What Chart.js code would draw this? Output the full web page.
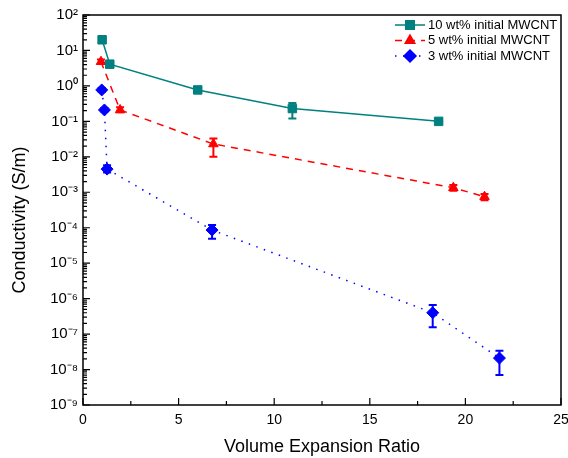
<!DOCTYPE html>
<html><head><meta charset="utf-8">
<script src="https://cdn.jsdelivr.net/npm/chart.js@4/dist/chart.umd.min.js"></script>
<style>html,body{margin:0;padding:0;background:#fff}</style>
</head><body>
<canvas id="c" width="568" height="458" style="display:block;width:568px;height:458px"></canvas>
<script>
// ---- data ----
const seriesLabels = ['10 wt% initial MWCNT', '5 wt% initial MWCNT', '3 wt% initial MWCNT'];

const x10 = [1.0, 1.4, 6.0, 10.95, 18.6];
const y10 = [20, 4.1, 0.77, 0.23, 0.1];
const lo10 = [18, 3.7, 0.7, 0.12, 0.095];
const hi10 = [22, 4.5, 0.85, 0.33, 0.105];

const x5 = [0.94, 1.94, 6.82, 19.37, 21.0];
const y5 = [4.8, 0.21, 0.023, 0.00134, 0.00075];
const lo5 = [4.2, 0.18, 0.01, 0.0011, 0.0006];
const hi5 = [5.6, 0.25, 0.033, 0.0016, 0.0009];

const x3 = [0.98, 1.12, 1.26, 6.75, 18.29, 21.78];
const y3 = [0.77, 0.21, 0.0045, 8.6e-5, 4e-7, 2.1e-8];
const lo3 = [0.68, 0.19, 0.0036, 4.9e-5, 1.55e-7, 7e-9];
const hi3 = [0.88, 0.24, 0.0058, 1.2e-4, 6.6e-7, 3.4e-8];

const xTickValues = [0, 5, 10, 15, 20, 25];
const yTickExponents = [-9, -8, -7, -6, -5, -4, -3, -2, -1, 0, 1, 2];

// ---- styles ----
const TEAL = '#008080', RED = '#ff0000', BLUE = '#0000ff';
const FONT = "'Liberation Sans', Arial, sans-serif";

function pts(xs, ys) { return xs.map((x, i) => ({ x: x, y: ys[i] })); }
const SUP = { '0': '⁰', '1': '¹', '2': '²', '3': '³', '4': '⁴', '5': '⁵', '6': '⁶', '7': '⁷', '8': '⁸', '9': '⁹', '-': '⁻' };
function sup(n) { return String(n).split('').map(c => SUP[c]).join(''); }

const datasets = [
  { label: seriesLabels[0], data: pts(x10, y10), lo: lo10, hi: hi10,
    borderColor: TEAL, backgroundColor: TEAL, borderWidth: 1.5,
    pointStyle: 'rect', pointRadius: 6, pointBorderWidth: 1, dash: [] },
  { label: seriesLabels[1], data: pts(x5, y5), lo: lo5, hi: hi5,
    borderColor: RED, backgroundColor: RED, borderWidth: 1.5, borderDash: [7, 6],
    pointStyle: 'triangle', pointRadius: 5.5, pointBorderWidth: 1, dash: [7, 6] },
  { label: seriesLabels[2], data: pts(x3, y3), lo: lo3, hi: hi3,
    borderColor: BLUE, backgroundColor: BLUE, borderWidth: 1.5, borderDash: [1.5, 6.5],
    pointStyle: 'rectRot', pointRadius: 6, pointBorderWidth: 1, dash: [1.5, 6.5] }
];

const decorPlugin = {
  id: 'decor',
  afterDatasetsDraw(chart) {
    const ctx = chart.ctx, xs = chart.scales.x, ys = chart.scales.y;
    // error bars
    chart.data.datasets.forEach(ds => {
      ctx.save();
      ctx.strokeStyle = ds.borderColor; ctx.lineWidth = 2; ctx.setLineDash([]);
      ds.data.forEach((p, i) => {
        const px = xs.getPixelForValue(p.x);
        const yl = ys.getPixelForValue(ds.lo[i]), yh = ys.getPixelForValue(ds.hi[i]);
        ctx.beginPath();
        ctx.moveTo(px, yl); ctx.lineTo(px, yh);
        ctx.moveTo(px - 4, yl); ctx.lineTo(px + 4, yl);
        ctx.moveTo(px - 4, yh); ctx.lineTo(px + 4, yh);
        ctx.stroke();
      });
      ctx.restore();
    });
  },
  afterDraw(chart) {
    const ctx = chart.ctx, a = chart.chartArea, xs = chart.scales.x, ys = chart.scales.y;
    ctx.save();
    ctx.strokeStyle = '#000'; ctx.lineWidth = 1.5; ctx.setLineDash([]);
    ctx.strokeRect(a.left, a.top, a.right - a.left, a.bottom - a.top);
    ctx.lineWidth = 1.2;
    ctx.beginPath();
    // y ticks (inward)
    yTickExponents.forEach((e, k) => {
      const py = ys.getPixelForValue(Math.pow(10, e));
      ctx.moveTo(a.left, py); ctx.lineTo(a.left + 7, py);
      if (k < yTickExponents.length - 1) {
        for (let m = 2; m <= 9; m++) {
          const pm = ys.getPixelForValue(m * Math.pow(10, e));
          ctx.moveTo(a.left, pm); ctx.lineTo(a.left + 4, pm);
        }
      }
    });
    // x ticks (inward)
    xTickValues.forEach((v, k) => {
      const px = xs.getPixelForValue(v);
      ctx.moveTo(px, a.bottom); ctx.lineTo(px, a.bottom - 7);
      if (k < xTickValues.length - 1) {
        const pm = xs.getPixelForValue((v + xTickValues[k + 1]) / 2);
        ctx.moveTo(pm, a.bottom); ctx.lineTo(pm, a.bottom - 4);
      }
    });
    ctx.stroke();

    // legend
    const tx = a.right - 133;
    ctx.font = '13px ' + FONT;
    ctx.textBaseline = 'middle';
    ctx.fillStyle = '#000';
    chart.data.datasets.forEach((ds, i) => {
      const y = a.top + 10 + i * 15.5;
      ctx.save();
      ctx.strokeStyle = ds.borderColor; ctx.lineWidth = 1.5;
      ctx.setLineDash(ds.dash);
      ctx.beginPath(); ctx.moveTo(tx - 33, y); ctx.lineTo(tx - 3, y); ctx.stroke();
      ctx.setLineDash([]);
      ctx.fillStyle = ds.backgroundColor;
      Chart.helpers.drawPoint(ctx, { pointStyle: ds.pointStyle, radius: ds.pointRadius, borderWidth: 1, rotation: 0 }, tx - 18, y);
      ctx.fill();
      ctx.restore();
      ctx.fillText(ds.label, tx, y);
    });
    ctx.restore();
  }
};

new Chart(document.getElementById('c'), {
  type: 'scatter',
  data: { datasets: datasets.map(d => Object.assign({ showLine: true, tension: 0 }, d)) },
  options: {
    responsive: false,
    animation: false,
    layout: { padding: { top: 15, right: 7, left: 0, bottom: 0 } },
    plugins: { legend: { display: false }, tooltip: { enabled: false } },
    scales: {
      x: {
        type: 'linear', min: 0, max: 25,
        afterBuildTicks: s => { s.ticks = xTickValues.map(v => ({ value: v })); },
        ticks: { font: { family: FONT, size: 14 }, color: '#000', padding: 7, maxRotation: 0 },
        grid: { display: false, drawTicks: false },
        border: { display: false },
        title: { display: true, text: 'Volume Expansion Ratio', color: '#000',
                 font: { family: FONT, size: 18 }, padding: { top: 0, bottom: 0 } },
        afterFit: s => { s.height = 53; s.paddingLeft = 0; s.paddingRight = 0; }
      },
      y: {
        type: 'logarithmic', min: 1e-9, max: 100,
        afterBuildTicks: s => { s.ticks = yTickExponents.map(e => ({ value: Math.pow(10, e) })); },
        ticks: {
          font: { family: FONT, size: 15 }, color: '#000', padding: 5,
          callback: v => '10' + sup(Math.round(Math.log10(v)))
        },
        grid: { display: false, drawTicks: false },
        border: { display: false },
        title: { display: true, text: 'Conductivity (S/m)    ', color: '#000',
                 font: { family: FONT, size: 18 }, padding: { top: 9, bottom: 0 } },
        afterFit: s => { s.width = 83; s.paddingTop = 0; s.paddingBottom = 0; }
      }
    }
  },
  plugins: [decorPlugin]
});
</script>
</body></html>
